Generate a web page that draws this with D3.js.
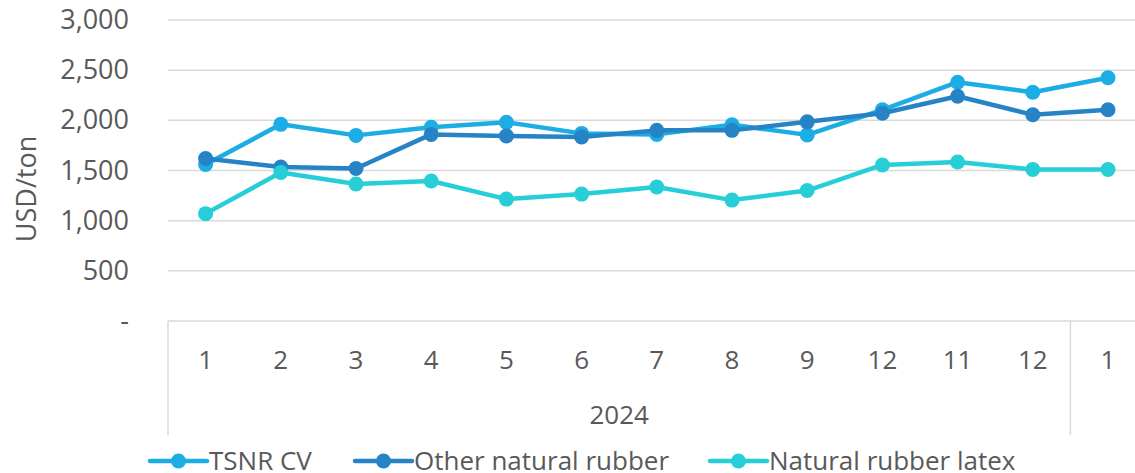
<!DOCTYPE html>
<html>
<head>
<meta charset="utf-8">
<script src="https://cdn.jsdelivr.net/npm/d3@7"></script>
<style>
  body { margin: 0; background: #fff; }
  text { font-family: "Open Sans", sans-serif; fill: #595959; }
</style>
</head>
<body>
<div id="chart"></div>
<script>
// données
var months = ["1", "2", "3", "4", "5", "6", "7", "8", "9", "12", "11", "12", "1"]
var yearLabel = "2024"
var tsnrCV = [1560, 1960, 1850, 1930, 1980, 1870, 1860, 1955, 1855, 2105, 2380, 2280, 2425]
var otherRubber = [1620, 1535, 1520, 1860, 1845, 1835, 1900, 1900, 1985, 2070, 2240, 2055, 2105]
var rubberLatex = [1070, 1480, 1365, 1395, 1215, 1265, 1335, 1205, 1300, 1555, 1585, 1510, 1510]
var seriesNames = ["TSNR CV", "Other natural rubber", "Natural rubber latex"]
var yTicks = [0, 500, 1000, 1500, 2000, 2500, 3000]

var width = 1135
var height = 473
var colors = ["#1CADE4", "#2683C6", "#27CED7"]

var svg = d3.select("#chart")
  .append("svg")
    .attr("width", width)
    .attr("height", height)

var plotLeft = 168, plotTop = 20, plotBottom = 321
var band = 75.2

var x = d3.scaleBand()
  .domain(d3.range(months.length))
  .range([plotLeft, plotLeft + band * months.length])

var y = d3.scaleLinear()
  .domain([0, 3000])
  .range([plotBottom, plotTop])

// lignes de grille
svg.append("g")
  .selectAll("line")
  .data(yTicks)
  .enter()
  .append("line")
    .attr("x1", plotLeft)
    .attr("x2", width)
    .attr("y1", function(d){ return y(d) })
    .attr("y2", function(d){ return y(d) })
    .attr("stroke", "#d9d9d9")
    .attr("stroke-width", 1.5)

// étiquettes de l'axe y
svg.append("g")
  .selectAll("text")
  .data(yTicks)
  .enter()
  .append("text")
    .attr("x", 129)
    .attr("y", function(d){ return y(d) + 9 })
    .attr("text-anchor", "end")
    .style("font-size", "27px")
    .text(function(d){ return d === 0 ? "-" : d3.format(",")(d) })

svg.append("text")
  .attr("transform", "translate(36," + 189 + ") rotate(-90)")
  .attr("text-anchor", "middle")
  .style("font-size", "27px")
  .text("USD/ton")

// séparateurs verticaux de l'axe x (début et changement d'année)
var seps = [0, 12]
svg.append("g")
  .selectAll("line")
  .data(seps)
  .enter()
  .append("line")
    .attr("x1", function(d){ return x(d) })
    .attr("x2", function(d){ return x(d) })
    .attr("y1", plotBottom)
    .attr("y2", 435)
    .attr("stroke", "#d9d9d9")
    .attr("stroke-width", 1.5)

// étiquettes des mois
svg.append("g")
  .selectAll("text")
  .data(months)
  .enter()
  .append("text")
    .attr("x", function(d, i){ return x(i) + x.bandwidth() / 2 })
    .attr("y", 369)
    .attr("text-anchor", "middle")
    .style("font-size", "26px")
    .text(function(d){ return d })

svg.append("text")
  .attr("x", (x(0) + x(12)) / 2)
  .attr("y", 424)
  .attr("text-anchor", "middle")
  .style("font-size", "26px")
  .text(yearLabel)

// séries
var allSeries = [tsnrCV, otherRubber, rubberLatex]
var line = d3.line()
  .x(function(d, i){ return x(i) + x.bandwidth() / 2 })
  .y(function(d){ return y(d) })

allSeries.forEach(function(values, k) {
  var g = svg.append("g")
  g.append("path")
    .datum(values)
    .attr("d", line)
    .attr("fill", "none")
    .attr("stroke", colors[k])
    .attr("stroke-width", 4.5)
    .attr("stroke-linejoin", "round")
  g.selectAll("circle")
    .data(values)
    .enter()
    .append("circle")
      .attr("cx", function(d, i){ return x(i) + x.bandwidth() / 2 })
      .attr("cy", function(d){ return y(d) })
      .attr("r", 7.5)
      .attr("fill", colors[k])
})

// légende
var legendX = [150, 355, 710]
var leg = svg.append("g")
  .selectAll("g")
  .data(seriesNames)
  .enter()
  .append("g")
    .attr("transform", function(d, i){ return "translate(" + legendX[i] + ",461)" })

leg.append("line")
  .attr("x1", 0)
  .attr("x2", 57)
  .attr("stroke", function(d, i){ return colors[i] })
  .attr("stroke-width", 4.5)
  .attr("stroke-linecap", "round")
leg.append("circle")
  .attr("cx", 28.5)
  .attr("r", 7.5)
  .attr("fill", function(d, i){ return colors[i] })
leg.append("text")
  .attr("x", 59)
  .attr("y", 9)
  .style("font-size", "26px")
  .text(function(d){ return d })
</script>
</body>
</html>
